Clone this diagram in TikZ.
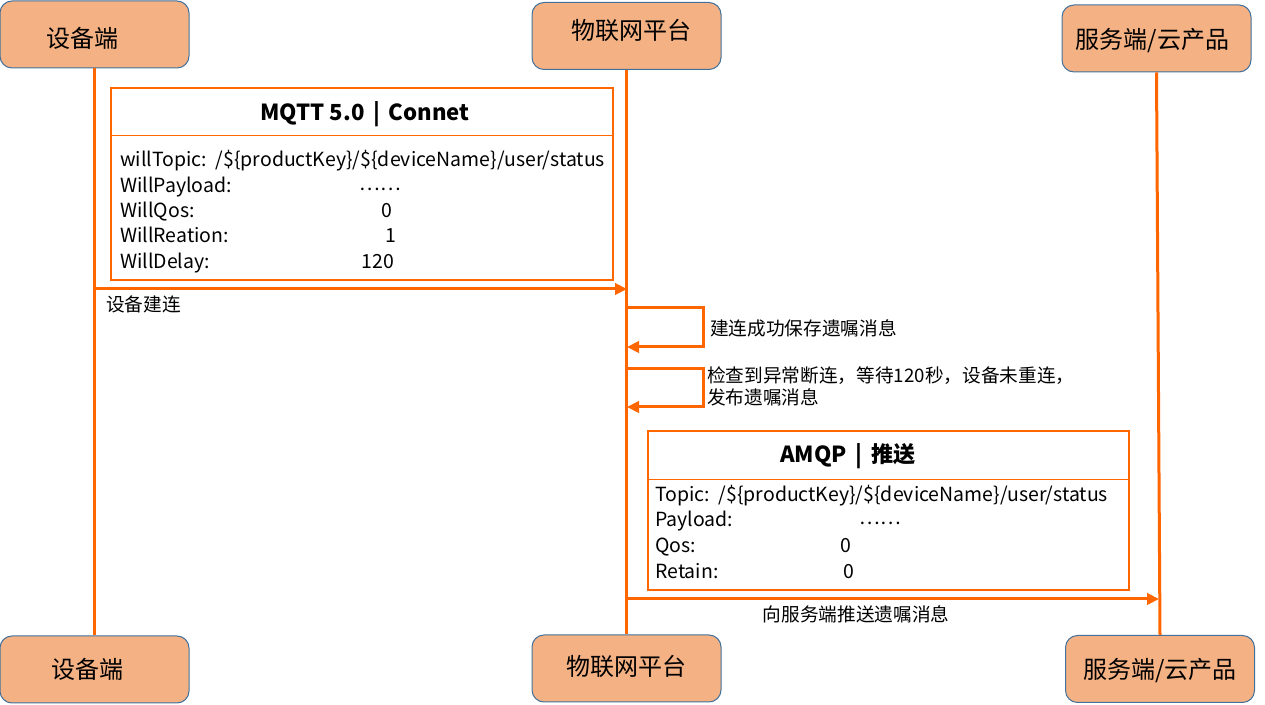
\documentclass[tikz,border=0pt]{standalone}
\usepackage{fontspec}
\setmainfont{Noto Sans CJK SC}
\usetikzlibrary{arrows.meta}
\definecolor{boxfill}{HTML}{F4B183}
\definecolor{boxline}{HTML}{41719C}
\definecolor{org}{HTML}{FF6600}
\begin{document}
\begin{tikzpicture}[x=0.75pt,y=-0.75pt,
  actor/.style={draw=boxline, line width=0.75pt, fill=boxfill, rounded corners=9pt,
    minimum width=141.75pt, minimum height=50.25pt, inner sep=0pt,
    text height=0.8em, text depth=0.2em,
    font=\fontsize{18}{21}\selectfont},
  life/.style={draw=org, line width=2.25pt},
  msg/.style={draw=org, line width=2.25pt, -{Triangle[length=9pt,width=8.5pt]}},
  frame/.style={draw=org, line width=1pt},
  title/.style={font=\bfseries\fontsize{16.6}{19}\selectfont, inner sep=0pt},
  row/.style={anchor=west, inner sep=0pt, font=\fontsize{14.6}{17}\selectfont,
    text height=1.6ex, text depth=0.4ex},
  val/.style={anchor=center, inner sep=0pt, font=\fontsize{14.6}{17}\selectfont,
    text height=1.6ex, text depth=0.4ex},
  lbl/.style={inner sep=0pt, font=\fontsize{14}{16.5}\selectfont, align=left}
]
\useasboundingbox (0,0) rectangle (1265,705);

% actors
\node[actor, text height=0.8em+13.5pt] (tl) at (94.5,34.5) {设备端\hspace*{18pt}};
\node[actor, text depth=0.2em+0.5pt] (tm) at (626.5,36) {\hspace*{8pt}物联网平台};
\node[actor, text height=0.8em+9.5pt] (tr) at (1156.5,38.5) {服务端/云产品\hspace*{6pt}};
\node[actor, text height=0.8em+7.5pt] (bl) at (94.5,669.5) {设备端\hspace*{10pt}};
\node[actor, text height=0.8em+4.5pt] (bm) at (626.5,668.5) {物联网平台};
\node[actor, text height=0.8em+8pt] (br) at (1160,669) {服务端/云产品};

% lifelines
\draw[life] (tl.south) -- (bl.north);
\draw[life] (tm.south) -- (bm.north);
\draw[life] (tr.south) -- (br.north);

% MQTT frame
\node[frame, minimum width=376.5pt, minimum height=144pt, inner sep=0pt] (mqtt) at (362,184) {};
\draw[frame] ([yshift=-36pt]mqtt.north west) -- ([yshift=-36pt]mqtt.north east);
\node[title] (mqt) at (365,114) {MQTT 5.0 {\,}|{\,} Connet};
\node[row] (r1) at (120,162) {willTopic:\ \ /\$\{productKey\}/\$\{deviceName\}/user/status};
\node[row] (r2) at (120,188) {WillPayload:};
\node[row] (r3) at (120,213) {WillQos:};
\node[row] (r4) at (120,238) {WillReation:};
\node[row] (r5) at (120,264) {WillDelay:};
\node[val] (v2) at (380,186) {……};
\node[val] (v3) at (387,213) {0};
\node[val] (v4) at (391,238) {1};
\node[val] (v5) at (378,264) {120};

% message 1
\coordinate (a1) at (95,289);
\coordinate (b1) at (627,289);
\draw[msg] (a1) -- (b1);
\node[lbl, anchor=west] (l1) at (106,304) {设备建连};

% self loop 1
\coordinate (s1) at (627,308);
\coordinate (s1r) at (703,308);
\coordinate (e1r) at (703,347);
\coordinate (e1) at (627,347);
\draw[msg] (s1) -- (s1r) -- (e1r) -- (e1);
\node[lbl, anchor=west] (l2) at (710,328) {建连成功保存遗嘱消息};

% self loop 2
\coordinate (s2) at (627,369);
\coordinate (s2r) at (703,369);
\coordinate (e2r) at (703,407);
\coordinate (e2) at (627,407);
\draw[msg] (s2) -- (s2r) -- (e2r) -- (e2);
\node[lbl, anchor=west] (l3) at (707,386) {检查到异常断连，等待120秒，设备未重连，\\发布遗嘱消息};

% AMQP frame
\node[frame, minimum width=360.75pt, minimum height=119.25pt, inner sep=0pt] (amqp) at (888.5,510.5) {};
\draw[frame] ([yshift=-36.75pt]amqp.north west) -- ([yshift=-36.75pt]amqp.north east);
\node[title] (amt) at (848,456) {AMQP {\,}|{\,} 推送};
\node[row] (q1) at (655,497) {Topic:\ \ /\$\{productKey\}/\$\{deviceName\}/user/status};
\node[row] (q2) at (655,522) {Payload:};
\node[row] (q3) at (655,548) {Qos:};
\node[row] (q4) at (655,574) {Retain:};
\node[val] (w2) at (880,520) {……};
\node[val] (w3) at (846,548) {0};
\node[val] (w4) at (849,574) {0};

% message to server
\coordinate (a4) at (627,599);
\coordinate (b4) at (1159,599);
\draw[msg] (a4) -- (b4);
\node[lbl] (l4) at (856,614) {向服务端推送遗嘱消息};
\end{tikzpicture}
\end{document}
